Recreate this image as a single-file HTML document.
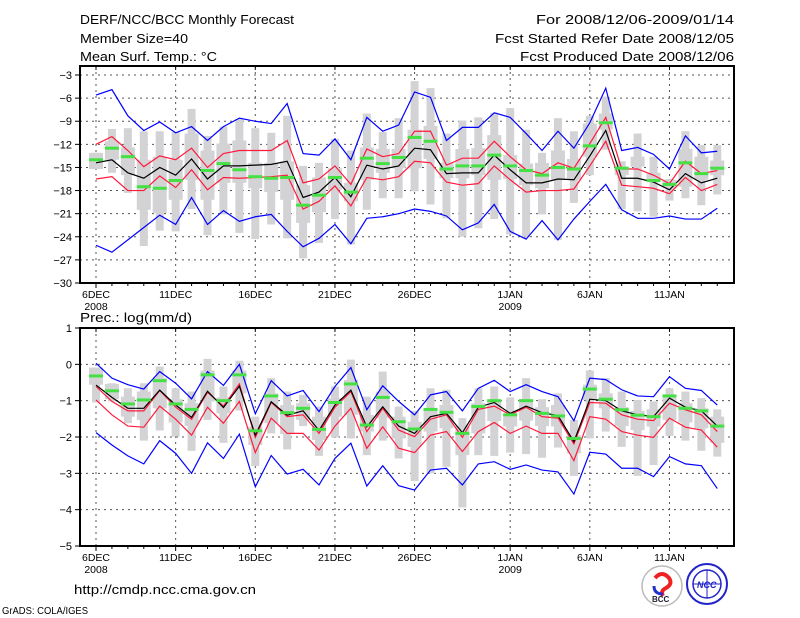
<!DOCTYPE html>
<html><head><meta charset="utf-8"><style>
html,body{margin:0;padding:0;background:#fff;}
svg{display:block;font-family:"Liberation Sans",sans-serif;}
</style></head><body>
<svg id="chart" width="800" height="618" viewBox="0 0 800 618" xmlns="http://www.w3.org/2000/svg">
<g font-size="13" fill="#000">
<text x="80" y="24" textLength="214" lengthAdjust="spacingAndGlyphs">DERF/NCC/BCC Monthly Forecast</text>
<text x="80" y="43" textLength="108" lengthAdjust="spacingAndGlyphs">Member Size=40</text>
<text x="80" y="61" textLength="137" lengthAdjust="spacingAndGlyphs">Mean Surf. Temp.: °C</text>
<text x="536" y="24" textLength="198" lengthAdjust="spacingAndGlyphs">For 2008/12/06-2009/01/14</text>
<text x="495" y="43" textLength="239" lengthAdjust="spacingAndGlyphs">Fcst Started Refer Date 2008/12/05</text>
<text x="520" y="61" textLength="214" lengthAdjust="spacingAndGlyphs">Fcst Produced Date 2008/12/06</text>
<text x="80" y="322" textLength="112" lengthAdjust="spacingAndGlyphs">Prec.: log(mm/d)</text>
<text x="74" y="594" textLength="182" lengthAdjust="spacingAndGlyphs">http://cmdp.ncc.cma.gov.cn</text>
<text x="2" y="614" font-size="10" textLength="86" lengthAdjust="spacingAndGlyphs">GrADS: COLA/IGES</text>
</g>
<g>
<circle cx="662" cy="586" r="20" fill="#fff" stroke="#bbb" stroke-width="1.5"/>
<path d="M655 578 q7 -8 14 0 q4 6 -3 10 q-6 3 -3 8" fill="none" stroke="#e22" stroke-width="4"/>
<path d="M654 586 q0 8 9 8" fill="none" stroke="#23c" stroke-width="3"/>
<text x="652" y="602" font-size="8" font-weight="bold" fill="#223">BCC</text>
</g>
<g>
<circle cx="707" cy="584" r="20" fill="#fff" stroke="#22c" stroke-width="2"/>
<ellipse cx="707" cy="584" rx="14" ry="14" fill="none" stroke="#22c" stroke-width="1.5"/>
<line x1="693" y1="584" x2="721" y2="584" stroke="#22c"/>
<line x1="707" y1="570" x2="707" y2="598" stroke="#22c"/>
<text x="697" y="588" font-size="9" font-weight="bold" fill="#22c" font-style="italic">NCC</text>
</g>
<g id="top"></g>
<g id="bot"></g>
</svg>
<script>
// ---- Temperature panel data ----
const days = ["6DEC","7DEC","8DEC","9DEC","10DEC","11DEC","12DEC","13DEC","14DEC","15DEC","16DEC","17DEC","18DEC","19DEC","20DEC","21DEC","22DEC","23DEC","24DEC","25DEC","26DEC","27DEC","28DEC","29DEC","30DEC","31DEC","1JAN","2JAN","3JAN","4JAN","5JAN","6JAN","7JAN","8JAN","9JAN","10JAN","11JAN","12JAN","13JAN","14JAN"];
const tickLabels = ["6DEC","11DEC","16DEC","21DEC","26DEC","1JAN","6JAN","11JAN"];
const tickIdx = [0,5,10,15,20,26,31,36];
const yearLabels = ["2008","","","","","2009","",""];
const tMean = [-14.4,-14.0,-15.7,-16.4,-15.0,-16.0,-13.9,-16.5,-14.8,-14.8,-14.7,-14.6,-14.2,-18.9,-18.2,-16.3,-18.8,-14.7,-15.2,-14.8,-12.5,-12.7,-15.8,-15.7,-15.7,-13.4,-15.3,-17.0,-17.0,-16.5,-16.6,-13.5,-10.2,-16.4,-16.4,-16.9,-17.9,-15.8,-17.0,-16.4];
const tRedHi = [-12.0,-11.0,-12.8,-14.9,-13.5,-14.0,-12.5,-15.0,-13.2,-12.8,-12.8,-12.8,-11.5,-17.0,-16.5,-14.8,-17.2,-12.6,-13.6,-13.2,-10.3,-10.3,-14.7,-13.8,-13.8,-11.6,-13.6,-15.3,-15.8,-14.4,-15.1,-11.9,-8.5,-15.2,-15.2,-16.0,-17.1,-14.2,-15.8,-15.4];
const tRedLo = [-16.5,-16.2,-18.0,-18.0,-16.1,-17.6,-15.3,-17.9,-16.3,-16.4,-16.3,-16.2,-16.0,-20.4,-19.4,-17.4,-20.0,-16.3,-16.6,-16.2,-14.2,-14.4,-16.9,-17.3,-17.1,-14.8,-16.6,-18.2,-18.0,-18.0,-17.8,-14.8,-11.6,-17.3,-17.5,-17.7,-18.4,-16.3,-18.0,-17.2];
const tBlueHi = [-5.6,-4.9,-8.3,-10.2,-9.1,-10.5,-9.7,-11.5,-9.7,-8.6,-9.0,-9.3,-6.7,-13.2,-13.4,-11.3,-14.0,-8.5,-10.3,-9.5,-5.2,-5.9,-11.5,-9.8,-9.8,-7.9,-8.5,-10.6,-12.8,-10.3,-12.5,-9.2,-4.7,-12.8,-12.4,-13.3,-15.2,-10.9,-13.1,-12.9];
const tBlueLo = [-25.1,-26.0,-24.4,-22.8,-21.2,-22.4,-18.9,-22.4,-20.6,-22.0,-21.4,-21.1,-23.3,-25.3,-24.2,-22.4,-24.9,-21.6,-21.4,-21.0,-20.4,-20.7,-21.3,-23.1,-22.2,-19.8,-23.3,-24.3,-21.9,-24.4,-21.7,-19.4,-17.2,-20.5,-21.6,-21.6,-21.3,-21.7,-21.7,-20.3];
const tObs = [-14.0,-12.5,-13.6,-17.5,-17.7,-16.7,null,-15.4,-14.5,-15.3,-16.2,-16.4,-16.3,-19.9,-18.6,-16.3,-18.2,-13.8,-14.5,-13.7,-11.1,-11.6,-15.2,-14.8,-14.8,-13.4,-14.8,-15.4,-16.0,-15.0,-15.2,-12.2,-9.2,-15.1,null,-16.7,-17.2,-14.4,-15.8,-15.1];
const tWhiskHi = [-13.1,-10.0,-9.9,-10.3,-10.3,-10.4,-7.4,-10.9,-9.7,-8.7,-9.9,-10.5,-8.3,-14.8,-14.4,-11.3,-12.8,-8.0,-10.4,-8.6,-3.8,-4.7,-10.6,-8.9,-8.5,-7.9,-7.3,-10.1,-13.1,-8.6,-10.3,-8.3,-5.8,-14.2,-10.6,-13.6,-16.5,-10.3,-12.1,-12.1];
const tWhiskLo = [-15.2,-15.7,-18.3,-25.2,-23.2,-23.3,-20.4,-23.8,-21.1,-23.5,-24.3,-22.4,-24.2,-26.8,-24.8,-21.7,-25.0,-20.5,-19.0,-19.0,-18.1,-19.8,-21.6,-24.0,-22.9,-21.7,-23.7,-24.0,-21.1,-24.4,-19.6,-16.0,-12.7,-20.4,-20.7,-21.4,-19.3,-19.0,-19.9,-18.5];
const tBoxHi = [-13.1,-11.6,-12.4,-14.0,-13.6,-14.0,-10.6,-12.8,-11.9,-11.5,-14.4,-14.4,-14.2,-17.3,-16.3,-15.1,-17.0,-12.4,-12.6,-12.6,-10.1,-9.6,-14.4,-12.6,-12.5,-10.8,-13.4,-14.5,-14.4,-12.8,-13.9,-9.3,-8.0,-14.9,-13.6,-15.7,-16.6,-12.6,-13.6,-14.1];
const tBoxLo = [-15.2,-14.0,-16.0,-20.5,-20.9,-19.2,-16.6,-19.2,-17.0,-17.0,-17.7,-18.2,-19.2,-22.2,-20.8,-17.9,-19.4,-16.6,-15.7,-15.1,-15.1,-13.9,-16.4,-16.4,-16.0,-16.6,-16.5,-17.3,-17.7,-16.6,-16.6,-13.6,-10.1,-16.0,-14.9,-16.7,-17.7,-17.5,-16.6,-16.0];
const tTicks = [-3,-6,-9,-12,-15,-18,-21,-24,-27,-30];
// ---- Precipitation panel data ----
const pMean = [-0.57,-0.91,-1.21,-1.21,-0.71,-1.12,-1.46,-0.74,-1.19,-0.60,-1.95,-1.03,-1.40,-1.28,-1.82,-1.12,-0.71,-1.72,-1.17,-1.70,-1.90,-1.44,-1.35,-1.88,-1.18,-1.05,-1.35,-1.15,-1.33,-1.41,-2.13,-0.96,-1.00,-1.28,-1.39,-1.44,-0.93,-1.18,-1.28,-1.70];
const pRedHi = [-0.61,-1.02,-1.28,-1.28,-0.72,-1.18,-1.51,-0.77,-1.15,-0.54,-2.01,-1.05,-1.44,-1.39,-1.90,-1.18,-0.75,-1.85,-1.21,-1.81,-1.99,-1.51,-1.39,-2.01,-1.24,-1.15,-1.39,-1.18,-1.44,-1.48,-2.19,-1.05,-1.07,-1.39,-1.51,-1.55,-1.07,-1.25,-1.39,-1.85];
const pRedLo = [-0.98,-1.39,-1.70,-1.73,-1.15,-1.51,-1.95,-1.18,-1.62,-1.02,-2.43,-1.48,-1.90,-1.90,-2.36,-1.70,-1.21,-2.31,-1.72,-2.31,-2.43,-1.95,-1.85,-2.40,-1.85,-1.60,-1.90,-1.70,-1.90,-1.90,-2.65,-1.44,-1.51,-1.85,-1.95,-2.01,-1.48,-1.73,-1.81,-2.28];
const pBlueHi = [0.03,-0.38,-0.56,-0.68,-0.20,-0.52,-0.95,-0.20,-0.58,0.0,-1.36,-0.45,-0.87,-0.72,-1.30,-0.61,-0.09,-1.25,-0.59,-1.02,-1.39,-0.84,-0.75,-1.28,-0.66,-0.44,-0.75,-0.56,-0.75,-0.89,-1.55,-0.38,-0.42,-0.70,-0.87,-0.89,-0.34,-0.66,-0.72,-1.12];
const pBlueLo = [-1.88,-2.22,-2.52,-2.74,-2.10,-2.45,-3.00,-2.16,-2.59,-1.92,-3.37,-2.51,-3.02,-2.89,-3.32,-2.59,-2.17,-3.35,-2.79,-3.34,-3.46,-2.91,-2.86,-3.32,-2.74,-2.68,-2.89,-2.77,-2.91,-2.96,-3.57,-2.42,-2.47,-2.86,-2.86,-3.09,-2.54,-2.74,-2.79,-3.42];
const pObs = [-0.32,-0.73,-1.09,-0.98,-0.45,-1.09,-1.24,-0.29,-1.00,-0.29,-1.83,-0.87,-1.33,-1.21,-1.79,-1.05,-0.54,-1.67,-0.91,-1.58,-1.78,-1.24,-1.32,-1.90,-1.16,-1.00,-1.39,-1.00,-1.35,-1.42,-2.04,-0.68,-0.96,-1.25,-1.40,-1.44,-0.87,-1.21,-1.28,-1.70];
const pWhiskHi = [-0.09,-0.52,-0.66,-0.52,-0.06,-0.66,-0.75,0.15,-0.61,0.10,-1.44,-0.38,-0.75,-0.84,-1.16,-0.61,0.13,-0.89,-0.20,-1.16,-1.28,-0.66,-0.70,-1.48,-0.66,-0.61,-0.91,-0.38,-0.96,-0.80,-1.53,-0.17,-0.38,-0.75,-0.98,-1.02,-0.66,-0.75,-0.93,-1.24];
const pWhiskLo = [-1.05,-1.02,-1.62,-2.10,-1.82,-1.99,-2.38,-1.53,-2.16,-1.27,-2.80,-1.90,-2.34,-1.70,-2.52,-2.01,-2.04,-2.50,-2.10,-2.59,-3.21,-3.00,-2.82,-3.94,-2.50,-2.52,-2.43,-2.47,-2.57,-2.29,-3.07,-2.04,-1.85,-2.27,-3.07,-2.77,-1.97,-2.10,-2.38,-2.54];
const pBoxHi = [-0.09,-0.54,-0.89,-0.75,-0.38,-0.96,-1.07,-0.17,-0.91,-0.17,-1.71,-0.80,-1.12,-1.07,-1.44,-0.93,-0.43,-1.39,-0.75,-1.44,-1.58,-1.21,-1.12,-1.70,-1.07,-0.98,-1.39,-0.96,-1.18,-1.12,-1.95,-0.56,-0.80,-1.18,-1.28,-1.24,-0.89,-1.07,-1.21,-1.44];
const pBoxLo = [-0.56,-0.96,-1.44,-1.53,-1.21,-1.60,-1.70,-1.02,-1.35,-0.80,-2.22,-1.62,-1.92,-1.53,-2.08,-1.44,-1.39,-1.85,-1.48,-2.04,-2.27,-1.85,-1.76,-2.50,-1.90,-1.56,-1.71,-1.55,-1.70,-1.71,-2.45,-0.98,-1.21,-1.70,-1.81,-1.71,-1.53,-1.60,-1.76,-2.16];
const pTicks = [1,0,-1,-2,-3,-4,-5];

const NS = "http://www.w3.org/2000/svg";
function mk(parent, tag, attrs){const e=document.createElementNS(NS,tag);for(const k in attrs)e.setAttribute(k,attrs[k]);parent.appendChild(e);return e;}
const X0=80, X1=734, D0=96, DX=15.93;
const xs = i => D0 + i*DX;

function panel(g, cfg){
  const {top, bot, ymax, ymin, ticks, mean, rHi, rLo, bHi, bLo, obs, wHi, wLo, boxHi, boxLo, name} = cfg;
  const ys = v => top + (ymax - v)/(ymax - ymin)*(bot - top);
  ticks.forEach(t=>{
    if(t===ymax||t===ymin) return;
    const l = mk(g,'line',{x1:X0,x2:X1,y1:ys(t),y2:ys(t),stroke:'#555','stroke-width':1,'stroke-dasharray':'2,4'});
    
    
  });
  tickIdx.forEach(i=>{
    const l = mk(g,'line',{x1:xs(i),x2:xs(i),y1:top,y2:bot,stroke:'#555','stroke-width':1,'stroke-dasharray':'2,4'});
    
    
  });
  days.forEach((d,i)=>{
    const w = mk(g,'rect',{x:xs(i)-4,y:ys(wHi[i]),width:8,height:ys(wLo[i])-ys(wHi[i]),fill:'#d3d3d6'});
    
    
    const b = mk(g,'rect',{x:xs(i)-7,y:ys(boxHi[i]),width:14,height:ys(boxLo[i])-ys(boxHi[i]),fill:'#d3d3d6'});
    
    
  });
  const line=(arr,col,nm)=>{
    const p = mk(g,'polyline',{points:arr.map((v,i)=>xs(i)+','+ys(v)).join(' '),fill:'none',stroke:col,'stroke-width':1.2});
    
    
  };
  line(bHi,'#0000ff','blue-upper'); line(bLo,'#0000ff','blue-lower');
  line(rHi,'#ff1a3c','red-upper'); line(rLo,'#ff1a3c','red-lower');
  line(mean,'#000','ensemble-mean');
  obs.forEach((v,i)=>{
    if(v===null) return;
    const r = mk(g,'rect',{x:xs(i)-7,y:ys(v)-1.5,width:14,height:3,fill:'#44e044'});
    
    
  });
  const f = mk(g,'rect',{x:X0,y:top,width:X1-X0,height:bot-top,fill:'none',stroke:'#000','stroke-width':2});
  
  
  ticks.forEach(t=>{
    mk(g,'line',{x1:X0-5,x2:X0,y1:ys(t),y2:ys(t),stroke:'#000','stroke-width':1});
    const tx = mk(g,'text',{x:X0-8,y:ys(t)+4,'text-anchor':'end','font-size':11});
    tx.textContent = t<0 ? '\u2212'+Math.abs(t) : String(t);
    
    
  });
  days.forEach((d,i)=>{
    const major = tickIdx.includes(i);
    mk(g,'line',{x1:xs(i),x2:xs(i),y1:bot,y2:bot+(major?5:3),stroke:'#000','stroke-width':1});
    if(major) mk(g,'line',{x1:xs(i),x2:xs(i),y1:top,y2:top+4,stroke:'#000','stroke-width':1});
  });
  tickIdx.forEach((i,k)=>{
    const t = mk(g,'text',{x:xs(i),y:bot+15,'text-anchor':'middle','font-size':10.5});
    t.textContent = tickLabels[k];
    
    
    if(yearLabels[k]){
      const y = mk(g,'text',{x:xs(i),y:bot+27,'text-anchor':'middle','font-size':10.5});
      y.textContent = yearLabels[k];
      
      
    }
  });
}
const gt = document.getElementById('top');


panel(gt,{name:'temp',top:66,bot:283,ymax:-1.83,ymin:-30,ticks:tTicks,mean:tMean,rHi:tRedHi,rLo:tRedLo,bHi:tBlueHi,bLo:tBlueLo,obs:tObs,wHi:tWhiskHi,wLo:tWhiskLo,boxHi:tBoxHi,boxLo:tBoxLo});
const gb = document.getElementById('bot');


panel(gb,{name:'prec',top:328,bot:546,ymax:1,ymin:-5,ticks:pTicks,mean:pMean,rHi:pRedHi,rLo:pRedLo,bHi:pBlueHi,bLo:pBlueLo,obs:pObs,wHi:pWhiskHi,wLo:pWhiskLo,boxHi:pBoxHi,boxLo:pBoxLo});
</script>
</body></html>
